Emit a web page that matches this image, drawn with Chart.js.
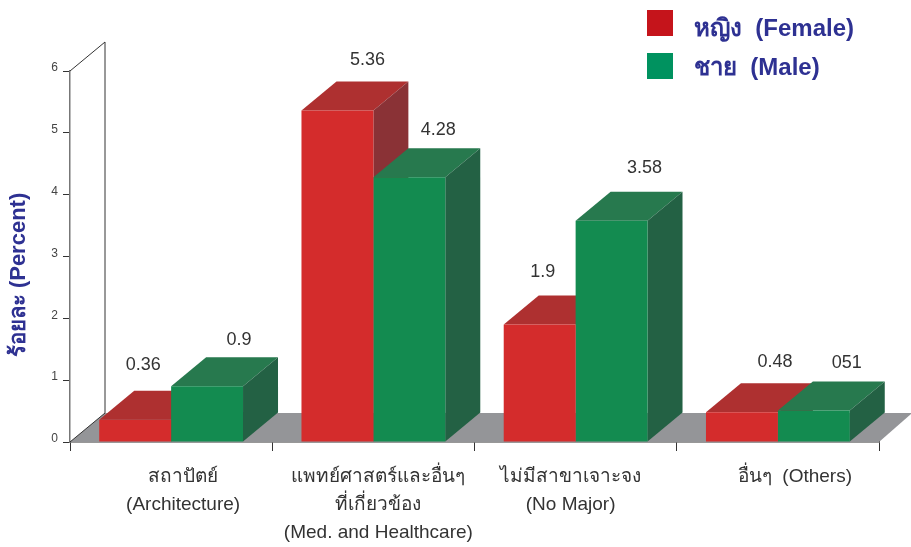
<!DOCTYPE html>
<html>
<head>
<meta charset="utf-8">
<style>
  html, body { margin: 0; padding: 0; background: #fff; }
  canvas { display: block; }
</style>
<script src="https://cdn.jsdelivr.net/npm/chart.js@4/dist/chart.umd.min.js"></script>
</head>
<body>
<canvas id="chart" width="911" height="547"></canvas>
<script>
// data
const categories = [
    ['สถาปัตย์', '(Architecture)'],
    ['แพทย์ศาสตร์และอื่นๆ', 'ที่เกี่ยวข้อง', '(Med. and Healthcare)'],
    ['ไม่มีสาขาเจาะจง', '(No Major)'],
    ['อื่นๆ  (Others)']
];
const seriesNames = ['หญิง  (Female)', 'ชาย  (Male)'];
const femaleValues = [0.36, 5.36, 1.9, 0.48];
const maleValues = [0.9, 4.28, 3.58, 0.51];
// printed labels, "051" is how the source prints it
const femaleLabels = ['0.36', '5.36', '1.9', '0.48'];
const maleLabels = ['0.9', '4.28', '3.58', '051'];
const yTicks = [0, 1, 2, 3, 4, 5, 6];
const yTitle = 'ร้อยละ (Percent)';

const FONT = '"Liberation Sans", "Noto Sans", sans-serif';
const DEPTH_X = 35;
const DEPTH_Y = -29;
const faces = [
    { front: '#d42c2c', top: '#ae3030', side: '#8a3236', legend: '#c5141b' },
    { front: '#138b50', top: '#27794e', side: '#236144', legend: '#00925f' }
];
const printed = [femaleLabels, maleLabels];
// hand nudges so the printed values sit where the original has them
const valueShift = [[8, 30, 3, 33], [32, 29, 33, 33]];
const valueLift = [[26, 22, 23, 21], [17, 18, 24, 18]];
const categoryLabelShift = [12, 5, -5, 17];

function poly(ctx, pts, color) {
    ctx.fillStyle = color;
    ctx.beginPath();
    pts.forEach(function (p, i) {
        if (i === 0) ctx.moveTo(p[0], p[1]); else ctx.lineTo(p[0], p[1]);
    });
    ctx.closePath();
    ctx.fill();
}

const box3d = {
    id: 'box3d',
    afterLayout: function (chart) {
        // move the tick labels a little, the library caches these items
        chart.scales.x.getLabelItems().forEach(function (item, i) {
            item.options.translation[0] += categoryLabelShift[i];
        });
        chart.scales.y.getLabelItems().forEach(function (item) {
            item.options.translation[1] -= 3;
        });
    },
    beforeDatasetsDraw: function (chart) {
        const ctx = chart.ctx;
        const area = chart.chartArea;
        const x0 = area.left, yb = area.bottom, yt = area.top;

        // floor
        poly(ctx, [[x0, yb], [x0 + DEPTH_X, yb + DEPTH_Y], [area.right + 33, yb + DEPTH_Y], [area.right, yb]], '#949598');

        // back wall edges
        ctx.strokeStyle = '#333';
        ctx.lineWidth = 1;
        ctx.beginPath();
        ctx.moveTo(x0, yt);
        ctx.lineTo(x0 + DEPTH_X, yt + DEPTH_Y);
        ctx.lineTo(x0 + DEPTH_X, yb + DEPTH_Y);
        ctx.moveTo(x0 + DEPTH_X, yb + DEPTH_Y);
        ctx.lineTo(x0, yb);
        ctx.stroke();

        // top and side faces, the fronts come from the bars themselves
        [0, 1].forEach(function (d) {
            chart.getDatasetMeta(d).data.forEach(function (bar) {
                const l = bar.x - bar.width / 2;
                const r = bar.x + bar.width / 2;
                poly(ctx, [[l, bar.y], [l + DEPTH_X, bar.y + DEPTH_Y], [r + DEPTH_X, bar.y + DEPTH_Y], [r, bar.y]], faces[d].top);
                poly(ctx, [[r, bar.y], [r + DEPTH_X, bar.y + DEPTH_Y], [r + DEPTH_X, bar.base + DEPTH_Y], [r, bar.base]], faces[d].side);
            });
        });
    },
    afterDatasetsDraw: function (chart) {
        const ctx = chart.ctx;
        ctx.save();

        // value labels
        ctx.font = '18px ' + FONT;
        ctx.fillStyle = '#333';
        ctx.textAlign = 'center';
        ctx.textBaseline = 'middle';
        [0, 1].forEach(function (d) {
            chart.getDatasetMeta(d).data.forEach(function (bar, i) {
                ctx.fillText(printed[d][i], bar.x + valueShift[d][i], bar.y + DEPTH_Y - valueLift[d][i]);
            });
        });

        // legend
        ctx.font = 'bold 24px ' + FONT;
        ctx.textAlign = 'left';
        seriesNames.forEach(function (name, i) {
            const y = 10 + i * 43;
            ctx.fillStyle = faces[i].legend;
            ctx.fillRect(647, y, 26, 26);
            ctx.fillStyle = '#2e3192';
            ctx.fillText(name, 694, y + 19 - i * 4);
        });

        // y title
        ctx.translate(19, 275);
        ctx.rotate(-Math.PI / 2);
        ctx.textAlign = 'center';
        ctx.font = 'bold 22px ' + FONT;
        ctx.fillText(yTitle, 0, 0);
        ctx.restore();
    }
};

new Chart(document.getElementById('chart'), {
    type: 'bar',
    plugins: [box3d],
    data: {
        labels: categories,
        datasets: [
            { label: seriesNames[0], data: femaleValues, backgroundColor: faces[0].front },
            { label: seriesNames[1], data: maleValues, backgroundColor: faces[1].front }
        ]
    },
    options: {
        responsive: false,
        animation: false,
        layout: { padding: { left: 0, right: 32, top: 71, bottom: 5 } },
        datasets: { bar: { categoryPercentage: 0.711, barPercentage: 1, borderWidth: 0 } },
        plugins: {
            legend: { display: false },
            title: { display: false },
            tooltip: { enabled: false }
        },
        scales: {
            x: {
                grid: { drawOnChartArea: false, drawTicks: true, tickLength: 9, color: '#333' },
                border: { color: '#333', width: 1.5 },
                ticks: { maxRotation: 0, autoSkip: false, padding: 12, color: '#333', font: { size: 19, family: FONT, lineHeight: 1.47 } },
                afterFit: function (scale) { scale.height = 100; }
            },
            y: {
                min: 0,
                max: 6,
                afterBuildTicks: function (scale) {
                    scale.ticks = yTicks.map(function (v) { return { value: v }; });
                },
                grid: { drawOnChartArea: false, drawTicks: true, tickLength: 7, color: '#333' },
                border: { color: '#777', width: 1.5 },
                ticks: { padding: 5, color: '#444', font: { size: 12, family: FONT } },
                afterFit: function (scale) { scale.width = 70; }
            }
        }
    }
});
</script>
</body>
</html>
